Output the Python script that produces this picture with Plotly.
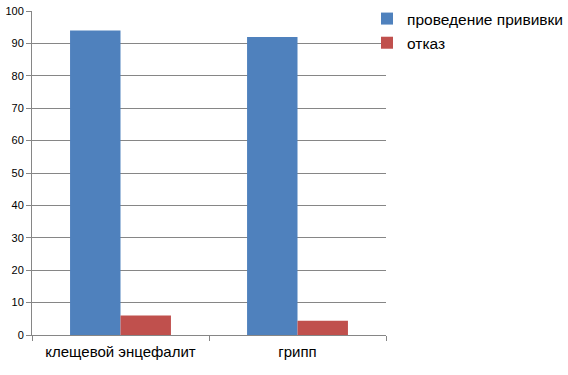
import plotly.graph_objects as go

categories = ["клещевой энцефалит", "грипп"]
series_names = ["проведение прививки", "отказ"]
vaccination = [94, 92]
refusal = [6, 4.4]
y_ticks = [0, 10, 20, 30, 40, 50, 60, 70, 80, 90, 100]

colors = ["#4F81BD", "#C0504D"]

W, H = 568, 375
ML, MR, MT, MB = 32, 0, 11, 40
plot_w = W - ML - MR
x_end = 354 / plot_w

fig = go.Figure()
fig.add_trace(go.Bar(x=categories, y=vaccination, name=series_names[0],
                     legendgroup="a",
                     marker=dict(color=colors[0], line=dict(width=0))))
fig.add_trace(go.Bar(x=categories, y=refusal, name=series_names[1],
                     legendgroup="b",
                     marker=dict(color=colors[1], line=dict(width=0))))

fig.update_layout(
    width=W, height=H,
    margin=dict(l=ML, r=MR, t=MT, b=MB, autoexpand=False),
    paper_bgcolor="white", plot_bgcolor="white",
    barmode="group", bargap=0.43, bargroupgap=0,
    font=dict(family="Liberation Sans, Arial, sans-serif", color="#000000"),
    legend=dict(xref="container", yref="container",
                x=367 / W, y=1.0 - 2 / H, xanchor="left", yanchor="top",
                font=dict(size=15.5, color="#000000"),
                bgcolor="rgba(0,0,0,0)",
                tracegroupgap=1, itemwidth=30),
    showlegend=True,
)
fig.update_xaxes(
    type="category", domain=[0, x_end], automargin=False,
    showline=True, linecolor="#868686", linewidth=1,
    ticks="outside", tickson="boundaries", ticklen=5, tickcolor="#868686",
    tickfont=dict(size=15, color="#000000"), showgrid=False,
    ticklabelstandoff=3,
)
fig.update_yaxes(
    range=[0, 100], tickvals=y_ticks, automargin=False,
    showline=True, linecolor="#868686",
    linewidth=1, ticks="outside", ticklen=5, tickcolor="#868686",
    showgrid=True, gridcolor="#868686", gridwidth=1,
    tickfont=dict(size=11, color="#000000"), zeroline=False,
)

fig.write_html("out.html")
